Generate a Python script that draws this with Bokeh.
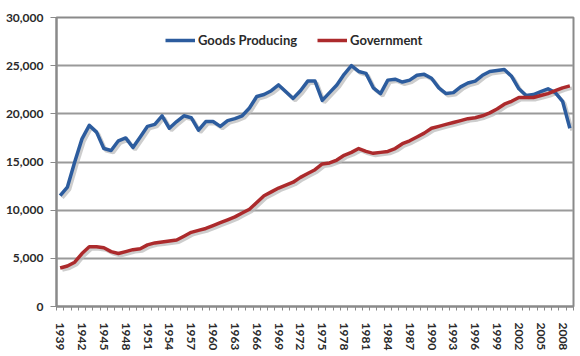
from bokeh.plotting import figure
from bokeh.models import ColumnDataSource, Range1d, FixedTicker, NumeralTickFormatter, Legend, LegendItem
from bokeh.transform import dodge
from bokeh.embed import file_html
from bokeh.resources import INLINE

years = list(range(1939, 2010))
goods_producing = [11500, 12400, 15000, 17400, 18800, 18100, 16400, 16200, 17200, 17500,
                   16500, 17600, 18700, 18900, 19800, 18500, 19200, 19800, 19600, 18300,
                   19200, 19200, 18700, 19300, 19500, 19800, 20600, 21800, 22000, 22400,
                   23000, 22300, 21600, 22400, 23400, 23400, 21400, 22200, 23000, 24100,
                   25000, 24400, 24200, 22700, 22100, 23500, 23600, 23300, 23500, 24000,
                   24100, 23700, 22700, 22100, 22200, 22800, 23200, 23400, 24000, 24400,
                   24500, 24600, 23900, 22600, 21900, 22000, 22300, 22600, 22200, 21300,
                   18500]
government = [4000, 4200, 4600, 5500, 6200, 6200, 6100, 5700, 5500, 5700,
              5900, 6000, 6400, 6600, 6700, 6800, 6900, 7300, 7700, 7900,
              8100, 8400, 8700, 9000, 9300, 9700, 10100, 10800, 11500, 11900,
              12300, 12600, 12900, 13400, 13800, 14200, 14800, 14900, 15200, 15700,
              16000, 16400, 16100, 15900, 16000, 16100, 16400, 16900, 17200, 17600,
              18000, 18500, 18700, 18900, 19100, 19300, 19500, 19600, 19800, 20100,
              20500, 21000, 21300, 21700, 21700, 21700, 21900, 22100, 22400, 22700,
              22900]
tick_years = years[::3]
tick_labels = [str(y) for y in tick_years]
y_ticks = [0, 5000, 10000, 15000, 20000, 25000, 30000]

src = ColumnDataSource(dict(year=years, goods=goods_producing, gov=government))

FONT = "Lato"
p = figure(width=580, height=356, output_backend="svg", toolbar_location=None,
           x_range=Range1d(years[0] - 0.5, years[-1] + 0.5), y_range=Range1d(0, 30000),
           min_border_left=56, min_border_right=7, min_border_top=17, min_border_bottom=50)
p.background_fill_color = "white"
p.border_fill_color = "white"
p.outline_line_color = "#8a8a8a"
p.outline_line_width = 2

# grid
p.xgrid.grid_line_color = None
p.ygrid.grid_line_color = "#9a9a9a"
p.ygrid.grid_line_width = 1.8
p.yaxis.ticker = FixedTicker(ticks=y_ticks)
p.yaxis.formatter = NumeralTickFormatter(format="0,0")

# axes style
for ax in (p.xaxis[0], p.yaxis[0]):
    ax.axis_line_color = "#8a8a8a"
    ax.axis_line_width = 2
    ax.major_tick_line_color = "#8a8a8a"
    ax.minor_tick_line_color = "#8a8a8a"
    ax.major_label_text_font = FONT
    ax.major_label_text_font_style = "bold"
    ax.major_label_text_font_size = "12px"
    ax.major_label_text_color = "#2a2a2a"

p.yaxis.major_tick_out = 6
p.yaxis.major_tick_in = 0
p.yaxis.minor_tick_out = 0
p.yaxis.minor_tick_in = 0
p.yaxis.major_label_standoff = 7

boundaries = [y - 0.5 for y in years] + [years[-1] + 0.5]
p.xaxis.ticker = FixedTicker(ticks=tick_years, minor_ticks=boundaries)
p.xaxis.major_label_overrides = {t: l for t, l in zip(tick_years, tick_labels)}
p.xaxis.major_label_orientation = "vertical"
p.xaxis.major_tick_out = 0
p.xaxis.major_tick_in = 0
p.xaxis.minor_tick_out = 4
p.xaxis.minor_tick_in = 0
p.xaxis.minor_tick_line_width = 1
p.xaxis.major_label_standoff = 12

# shadows
p.line(x=dodge("year", 0.3), y=dodge("goods", -230), source=src, line_color="#b8b8b8",
       line_width=3.5, line_alpha=0.7)
p.line(x=dodge("year", 0.3), y=dodge("gov", -230), source=src, line_color="#b8b8b8",
       line_width=3.5, line_alpha=0.7)

r1 = p.line("year", "goods", source=src, line_color="#2c5c9e", line_width=3.5, line_join="round")
r2 = p.line("year", "gov", source=src, line_color="#ac2a2c", line_width=3.5, line_join="round")

legend = Legend(items=[LegendItem(label="Goods Producing", renderers=[r1]),
                       LegendItem(label="Government", renderers=[r2])],
                orientation="horizontal", location=(109, 256))
legend.border_line_color = None
legend.background_fill_alpha = 0
legend.padding = 0
legend.margin = 0
legend.glyph_width = 30
legend.glyph_height = 20
legend.label_standoff = 3
legend.spacing = 20
legend.label_text_font = FONT
legend.label_text_font_style = "bold"
legend.label_text_font_size = "13px"
legend.label_text_color = "#2a2a2a"
p.add_layout(legend)

open("out.html", "w").write(file_html(p, INLINE))
